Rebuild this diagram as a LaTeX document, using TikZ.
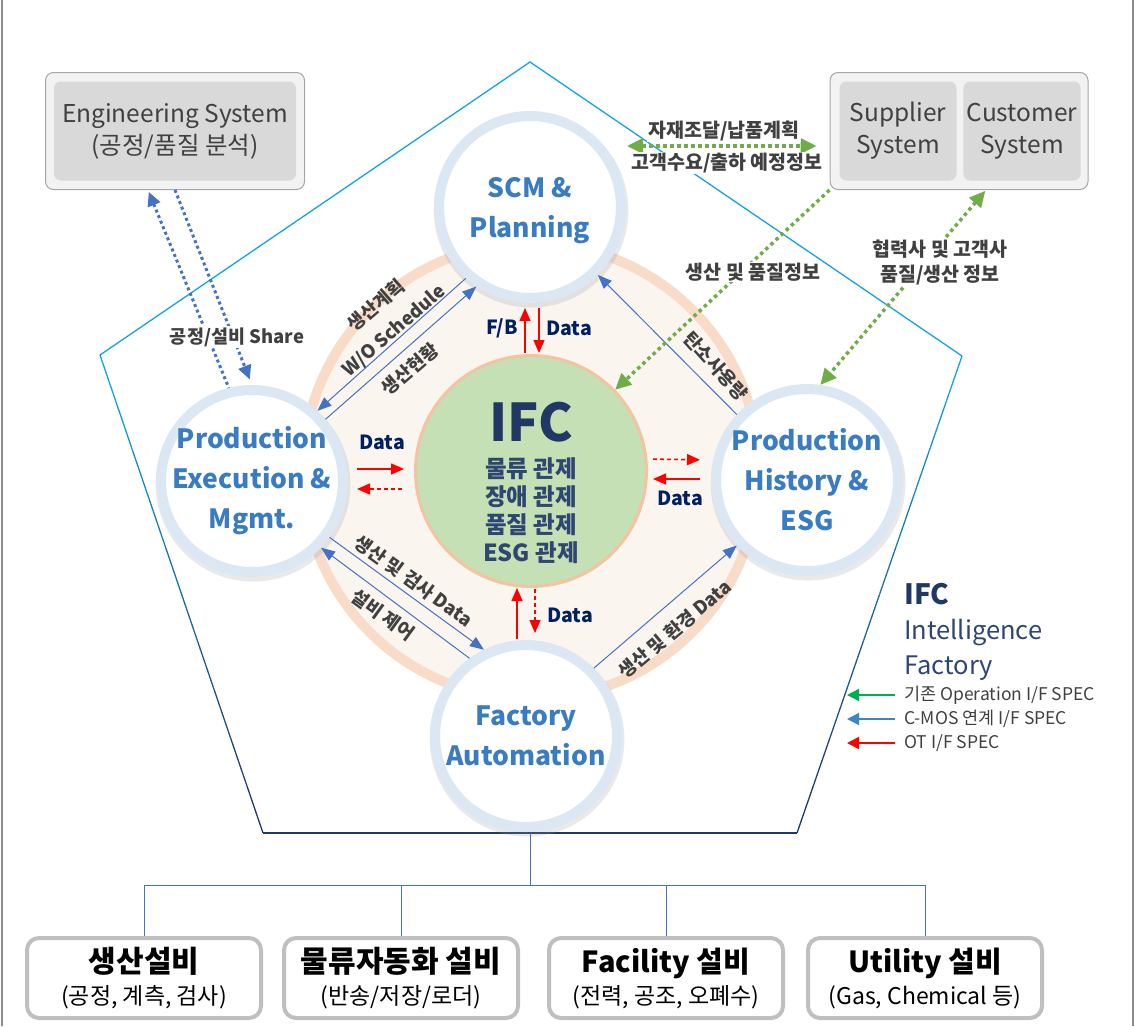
\documentclass[tikz,border=0pt]{standalone}
\usepackage{fontspec}
\setmainfont{Noto Sans CJK KR}
\usetikzlibrary{arrows.meta, positioning, shadows, calc}

\definecolor{satring}{HTML}{DCE7F4}
\definecolor{sattext}{HTML}{3A7CC2}
\definecolor{ifcnavy}{HTML}{1F3864}
\definecolor{ifcsub}{HTML}{2E4672}
\definecolor{datanavy}{HTML}{002060}
\definecolor{labelgray}{HTML}{404040}
\definecolor{ringedge}{HTML}{F8DCC8}
\definecolor{ringfill}{HTML}{FBF5EF}
\definecolor{ifcfill}{HTML}{C5E0B4}
\definecolor{ifcedge}{HTML}{F4C3A2}
\definecolor{lineblue}{HTML}{4472C4}
\definecolor{leafgreen}{HTML}{70AD47}
\definecolor{pentcyan}{HTML}{12A3E3}
\definecolor{pentnavy}{HTML}{203864}
\definecolor{boxgray}{HTML}{D9D9D9}
\definecolor{boxlight}{HTML}{F2F2F2}
\definecolor{boxedge}{HTML}{A6A6A6}
\definecolor{equipedge}{HTML}{BFBFBF}
\definecolor{specgreen}{HTML}{00B050}
\definecolor{specblue}{HTML}{3D85C6}
\definecolor{framegray}{HTML}{8C8C8C}

\newcommand{\pxfont}[2]{\fontsize{#1pt}{#2pt}\selectfont}

\begin{document}
\begin{tikzpicture}[x=1pt, y=-1pt,
    sat/.style={circle, draw=satring, line width=10pt, fill=white, minimum size=182pt,
                drop shadow={opacity=0.22, fill=black!40, shadow scale=1.07,
                             shadow xshift=1pt, shadow yshift=-3pt}},
    satlabel/.style={align=center, text=sattext, font=\pxfont{26.5}{40}\bfseries, inner sep=0pt},
    sysbox/.style={draw=boxedge, fill=boxlight, rounded corners=8pt, line width=1pt,
                   minimum height=117pt},
    sysin/.style={fill=boxgray, rounded corners=7pt, minimum height=99pt, align=center,
                  text=labelgray, font=\pxfont{24.5}{32}},
    equip/.style={draw=equipedge, line width=4pt, fill=white, rounded corners=12pt,
                  minimum width=234pt, minimum height=80pt, align=center, font=\pxfont{23}{32}},
    tag/.style={text=labelgray, font=\pxfont{18.5}{25}\bfseries, align=center, inner sep=0pt},
    bigtag/.style={tag, font=\pxfont{19.5}{25}\bfseries, fill=white, inner sep=1pt},
    datatag/.style={text=datanavy, font=\pxfont{19.5}{22}\bfseries, inner sep=1pt},
    ringarr/.style={draw=lineblue, line width=1pt, -{Triangle[length=14pt,width=11pt]}},
    ot/.style={draw=red, line width=1.5pt, -{Triangle[length=13pt,width=11pt]}},
    otdash/.style={ot, dash pattern=on 4pt off 3pt},
    greenlink/.style={draw=leafgreen, line width=3.5pt, dash pattern=on 3.5pt off 3.5pt},
    engdots/.style={draw=lineblue, line width=3pt, dash pattern=on 3pt off 3pt},
    tree/.style={draw=lineblue, line width=1pt},
    spec/.style={line width=1.5pt, -{Triangle[length=12pt,width=12pt]}},
    spectext/.style={anchor=west, text=labelgray, font=\pxfont{17.5}{20}, inner sep=0pt}]

    \useasboundingbox (0,0) rectangle (1135,1026);

    % page frame at the sides
    \draw[framegray, line width=1.5pt] (2,0) -- (2,1026);
    \draw[framegray, line width=1.5pt] (1133,0) -- (1133,1026);

    % pentagon
    \coordinate (ptop) at (530,62);
    \coordinate (pr) at (962,356);
    \coordinate (pbr) at (797,833);
    \coordinate (pbl) at (263,833);
    \coordinate (pl) at (100,355);
    \coordinate (pbot) at (530,833);
    \draw[pentcyan, line width=1.3pt] (pl) -- (ptop) -- (pr);
    \foreach \k [evaluate=\k as \pct using int(100-\k*11)] in {0,...,9} {
        \draw[pentcyan!\pct!pentnavy, line width=1.3pt]
            ($(pr)!\k/10!(pbr)$) -- ($(pr)!\k/10+0.1!(pbr)$);
        \draw[pentcyan!\pct!pentnavy, line width=1.3pt]
            ($(pl)!\k/10!(pbl)$) -- ($(pl)!\k/10+0.1!(pbl)$);
    }
    \draw[pentnavy, line width=1.3pt] (pbl) -- (pbr);

    % ring and IFC core
    \node[circle, draw=ringedge, line width=10pt, fill=ringfill, minimum size=456pt] (ring) at (531,471) {};
    \node[circle, draw=ifcedge, line width=3pt, fill=ifcfill, minimum size=231pt] (ifc) at (531,471) {};
    \node[font=\pxfont{52}{60}\bfseries, text=ifcnavy, inner sep=0pt] (ifcname) at ([yshift=49pt]ifc.center) {IFC};
    \node[align=center, font=\pxfont{23.5}{28}\bfseries, text=ifcsub, inner sep=0pt] (ifcjobs)
        at ([yshift=-40pt]ifc.center) {물류 관제\\장애 관제\\품질 관제\\ESG 관제};

    % four satellite systems
    \node[sat] (scm) at (530,207) {};
    \node[satlabel] (scmtxt) at ([yshift=-4pt]scm.center) {SCM \&\\Planning};
    \node[sat] (pem) at (252,481) {};
    \node[satlabel] (pemtxt) at (pem) {Production\\Execution \&\\Mgmt.};
    \node[sat] (phe) at (807,480) {};
    \node[satlabel] (phetxt) at (phe) {Production\\History \&\\ESG};
    \node[sat] (fa) at (526,736) {};
    \node[satlabel] (fatxt) at (fa) {Factory\\Automation};

    % outside systems
    \node[sysbox, minimum width=259pt] (eng) at (175,131) {};
    \node[sysin, minimum width=242pt] (engin) at (175,131) {Engineering System\\(공정/품질 분석)};
    \node[sysbox, minimum width=258pt] (partner) at (959,131) {};
    \node[sysin, minimum width=117pt] (sup) at (898,131) {Supplier\\System};
    \node[sysin, minimum width=116pt] (cus) at (1022,131) {Customer\\System};

    % equipment layer
    \node[equip] (eq1) at (144,978) {{\bfseries\pxfont{30}{32}생산설비}\\(공정, 계측, 검사)};
    \node[equip] (eq2) at (401,978) {{\bfseries\pxfont{30}{32}물류자동화 설비}\\(반송/저장/로더)};
    \node[equip] (eq3) at (666,978) {{\bfseries\pxfont{29}{32}Facility 설비}\\(전력, 공조, 오폐수)};
    \node[equip] (eq4) at (925,978) {{\bfseries\pxfont{29}{32}Utility 설비}\\(Gas, Chemical 등)};
    \coordinate (bus) at (530,885);
    \draw[tree] (pbot) -- (bus);
    \draw[tree] (bus) -| (eq1.north);
    \draw[tree] (bus) -| (eq2.north);
    \draw[tree] (bus) -| (eq3.north);
    \draw[tree] (bus) -| (eq4.north);

    % C-MOS links along the ring
    \draw[ringarr] (scm.228) -- (pem.47);
    \draw[ringarr] (pem.40) -- (scm.236);
    \draw[ringarr] (phe.137) -- (scm.315);
    \draw[ringarr] (pem.324) -- (fa.116);
    \draw[ringarr] (fa.126) -- (pem.316);
    \draw[ringarr] (fa.45) -- (phe.223);
    \node[tag, rotate=41] (plan) at (376,305) {생산계획};
    \node[tag, rotate=41] (wosched) at (394,331) {W/O Schedule};
    \node[tag, rotate=41] (status) at (410,369) {생산현황};
    \node[tag, rotate=-48] (carbon) at (716,366) {탄소사용량};
    \node[tag, rotate=-36] (inspect) at (414,581) {생산 및 검사 Data};
    \node[tag, rotate=-36] (control) at (383,615) {설비 제어};
    \node[tag, rotate=40] (envdata) at (675,629) {생산 및 환경 Data};

    % OT links to the IFC core
    \draw[ot, shorten <=1pt, shorten >=5pt] ([xshift=-6pt]ifc.north) -- ([xshift=-5pt]scm.south);
    \draw[ot, shorten <=5pt, shorten >=1pt] ([xshift=9pt]scm.south) -- ([xshift=8pt]ifc.north);
    \node[datatag] (fb) at (502,328) {F/B};
    \node[datatag] (scmdata) at (569,328) {Data};
    \draw[ot, shorten <=9pt, shorten >=10pt] ([yshift=12pt]pem.east) -- ([yshift=2pt]ifc.west);
    \draw[otdash, shorten <=12pt, shorten >=9pt] ([yshift=-18pt]ifc.west) -- ([yshift=-8pt]pem.east);
    \node[datatag] (pemdata) at (382,442) {Data};
    \draw[otdash, shorten <=5pt, shorten >=11pt] ([yshift=12pt]ifc.east) -- ([yshift=20pt]phe.west);
    \draw[ot, shorten <=11pt, shorten >=5pt] ([yshift=1pt]phe.west) -- ([yshift=-8pt]ifc.east);
    \node[datatag] (phedata) at (680,498) {Data};
    \draw[ot, shorten <=1pt] ([xshift=-9pt]fa.north) -- ([xshift=-14pt]ifc.south);
    \draw[otdash, shorten <=1pt, shorten >=7pt] ([xshift=4pt]ifc.south) -- ([xshift=9pt]fa.north);
    \node[datatag] (fadata) at (570,615) {Data};

    % engineering share
    \draw[engdots, {Triangle[length=14pt,width=13pt]}-, shorten <=2pt] ([xshift=-27pt]eng.south) -- (pem.104);
    \draw[engdots, -{Triangle[length=14pt,width=13pt]}, shorten >=6pt] (eng.south) -- (pem.north);
    \node[tag, fill=white, inner sep=1pt] (share) at (237,337) {공정/설비 Share};

    % supplier / customer links
    \coordinate (trade) at (627,146);
    \draw[greenlink, {Triangle[length=16pt,width=15pt]}-{Triangle[length=16pt,width=15pt]}, shorten >=13pt]
        (trade) -- (trade -| partner.west);
    \node[bigtag] (tradeup) at (724,131) {자재조달/납품계획};
    \node[bigtag] (tradedn) at (727,163) {고객수요/출하 예정정보};
    \draw[greenlink, -{Triangle[length=16pt,width=15pt]}] (partner.south west) -- (ifc.44);
    \node[bigtag] (quality) at (753,272) {생산 및 품질정보};
    \draw[greenlink, {Triangle[length=16pt,width=15pt]}-{Triangle[length=16pt,width=15pt]}, shorten <=1pt]
        ([xshift=27pt]partner.south) -- (phe.82);
    \node[bigtag] (partnerinfo) at (940,262) {협력사 및 고객사\\품질/생산 정보};

    % legend
    \node[anchor=west, font=\pxfont{28}{32}\bfseries, text=ifcnavy, inner sep=0pt] (lgifc) at (904,594) {IFC};
    \node[anchor=west, font=\pxfont{25.5}{32}, text=ifcsub, inner sep=0pt] (lgint) at (904,633) {Intelligence};
    \node[anchor=west, font=\pxfont{25.5}{32}, text=ifcsub, inner sep=0pt] (lgfac) at (904,668) {Factory};
    \node[spectext] (specop) at (904,695) {기존 Operation I/F SPEC};
    \node[spectext] (speccmos) at (904,719) {C-MOS 연계 I/F SPEC};
    \node[spectext] (specot) at (904,743) {OT I/F SPEC};
    \draw[spec, specgreen] ([xshift=-9pt]specop.west) -- ([xshift=-57pt]specop.west);
    \draw[spec, specblue] ([xshift=-9pt]speccmos.west) -- ([xshift=-57pt]speccmos.west);
    \draw[spec, red] ([xshift=-9pt]specot.west) -- ([xshift=-57pt]specot.west);
\end{tikzpicture}
\end{document}
